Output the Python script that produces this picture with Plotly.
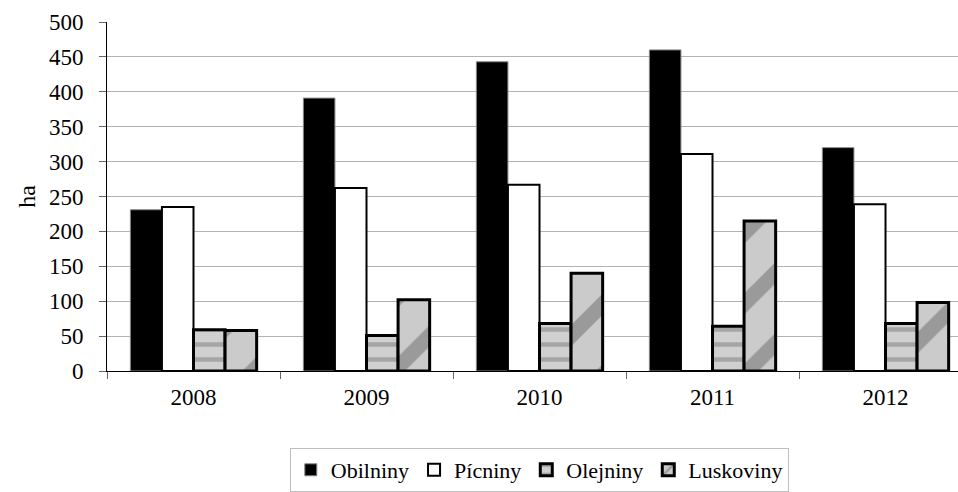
import plotly.graph_objects as go

# Crop areas by year (ha)
years = ["2008", "2009", "2010", "2011", "2012"]
obilniny = [231, 391, 443, 460, 320]
picniny = [235, 262, 267, 311, 239]
olejniny = [59, 51, 68, 64, 68]
luskoviny = [58, 102, 140, 215, 98]

FONT = "Liberation Serif"

fig = go.Figure()

fig.add_trace(go.Bar(
    name="Obilniny", x=years, y=obilniny,
    marker=dict(color="#000000", line=dict(color="#888888", width=1)),
))
fig.add_trace(go.Bar(
    name="Pícniny", x=years, y=picniny,
    marker=dict(color="#ffffff", line=dict(color="#000000", width=2)),
))
fig.add_trace(go.Bar(
    name="Olejniny", x=years, y=olejniny,
    marker=dict(
        color="#d0d0d0",
        line=dict(color="#000000", width=3),
        pattern=dict(shape="-", fgcolor="#7a7a7a", bgcolor="#d0d0d0",
                     size=15, solidity=0.3),
    ),
))
fig.add_trace(go.Bar(
    name="Luskoviny", x=years, y=luskoviny,
    marker=dict(
        color="#c6c6c6",
        line=dict(color="#000000", width=3),
        pattern=dict(shape="/", fgcolor="#6a6a6a", bgcolor="#cbcbcb",
                     size=50, solidity=0.3),
    ),
))

fig.update_layout(
    width=958, height=492,
    margin=dict(l=107, r=0, t=22, b=116),
    paper_bgcolor="white", plot_bgcolor="white",
    barmode="group", bargap=0.27, bargroupgap=0,
    font=dict(family=FONT, size=22, color="#000000"),
    showlegend=True,
    legend=dict(
        orientation="h", x=0.508, xanchor="center", y=-0.222, yanchor="top",
        bordercolor="#bfbfbf", borderwidth=1, bgcolor="white",
        font=dict(family=FONT, size=22),
        itemwidth=30, traceorder="normal",
    ),
)

fig.update_xaxes(
    type="category", range=[-0.5, 4.419],
    showline=True, linecolor="#000000", linewidth=1,
    ticks="outside", tickson="boundaries", ticklen=7, tickcolor="#666666",
    showgrid=False, zeroline=False,
    tickfont=dict(family=FONT, size=23),
    ticklabelstandoff=5,
)

fig.update_yaxes(
    range=[0, 500], dtick=50,
    showline=True, linecolor="#000000", linewidth=1,
    ticks="outside", ticklen=7, tickcolor="#666666",
    showgrid=True, gridcolor="#b3b3b3", gridwidth=1,
    zeroline=False,
    tickfont=dict(family=FONT, size=23),
    ticklabelstandoff=11,
    title=dict(text="ha", font=dict(family=FONT, size=24), standoff=6),
)

fig.write_html("out.html")
